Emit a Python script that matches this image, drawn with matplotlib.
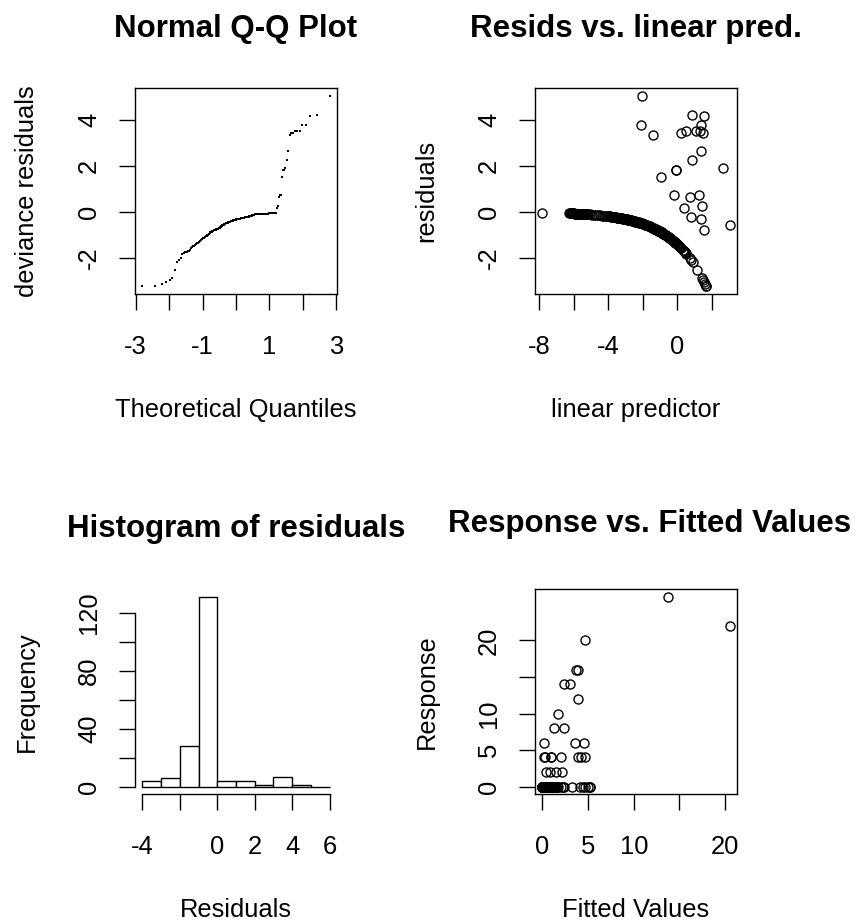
import matplotlib
matplotlib.use('Agg')

import numpy as np
import matplotlib.pyplot as plt
from statistics import NormalDist

plt.rcParams['font.family'] = ['Liberation Sans', 'DejaVu Sans']

# --- data (Poisson-type GLM diagnostics) ---

# observations with response 0: linear predictor and deviance residual
zero_linpred = [
    -7.80, -6.24, -6.20, -6.16, -6.13, -6.10, -6.07, -6.04, -6.01, -5.98,
    -5.94, -5.91, -5.88, -5.84, -5.81, -5.77, -5.74, -5.71, -5.67, -5.64,
    -5.60, -5.57, -5.54, -5.50, -5.47, -5.43, -5.40, -5.37, -5.33, -5.30,
    -5.25, -5.14, -5.03, -4.92, -4.81, -4.70, -4.59, -4.48, -4.37, -4.26,
    -4.15, -4.05,
    -3.98, -3.93, -3.89, -3.85, -3.80, -3.76, -3.71, -3.67, -3.63, -3.58,
    -3.54, -3.50, -3.45, -3.41, -3.36, -3.32,
    -3.29, -3.26, -3.23, -3.20, -3.16, -3.13, -3.10, -3.06, -3.03, -3.00,
    -2.96, -2.93, -2.90, -2.86, -2.83, -2.80, -2.76,
    -2.73, -2.70, -2.66, -2.63, -2.59, -2.56, -2.52, -2.49, -2.45, -2.42,
    -2.38, -2.35, -2.31, -2.28, -2.24, -2.21, -2.17, -2.14,
    -2.10, -2.05, -2.00, -1.95, -1.90, -1.85, -1.80, -1.75, -1.70, -1.65,
    -1.60, -1.55, -1.50, -1.45, -1.40,
    -1.36, -1.33, -1.30, -1.27, -1.24, -1.21, -1.18, -1.15, -1.12, -1.09,
    -1.06, -1.03, -1.00, -0.97,
    -0.91, -0.86, -0.80, -0.75, -0.70,
    -0.65, -0.62, -0.58, -0.54, -0.50, -0.47, -0.43, -0.40, -0.35, -0.30,
    -0.25, -0.20, -0.15, -0.11, -0.06, -0.02, 0.02, 0.08, 0.12, 0.16,
    0.22, 0.33, 0.37, 0.39, 0.43, 0.45, 0.48, 0.53,
    0.72, 0.79, 0.88, 1.16, 1.42, 1.49,
    1.54, 1.60, 1.65, 1.66,
]
zero_resid = [
    -0.029, -0.062, -0.064, -0.065, -0.066, -0.067, -0.068, -0.069, -0.070, -0.071,
    -0.073, -0.074, -0.075, -0.076, -0.077, -0.079, -0.080, -0.081, -0.083, -0.084,
    -0.086, -0.087, -0.089, -0.090, -0.092, -0.094, -0.095, -0.096, -0.098, -0.100,
    -0.102, -0.108, -0.114, -0.121, -0.128, -0.135, -0.143, -0.151, -0.159, -0.168,
    -0.178, -0.187,
    -0.193, -0.198, -0.202, -0.206, -0.212, -0.216, -0.221, -0.226, -0.230, -0.236,
    -0.241, -0.246, -0.252, -0.257, -0.264, -0.269,
    -0.273, -0.277, -0.281, -0.286, -0.291, -0.296, -0.300, -0.306, -0.311, -0.316,
    -0.322, -0.327, -0.332, -0.338, -0.344, -0.349, -0.356,
    -0.361, -0.367, -0.374, -0.380, -0.387, -0.393, -0.401, -0.407, -0.415, -0.422,
    -0.430, -0.437, -0.446, -0.452, -0.461, -0.468, -0.478, -0.485,
    -0.495, -0.507, -0.520, -0.533, -0.547, -0.561, -0.575, -0.590, -0.604, -0.620,
    -0.635, -0.652, -0.668, -0.685, -0.702,
    -0.716, -0.727, -0.738, -0.749, -0.761, -0.772, -0.784, -0.796, -0.808, -0.820,
    -0.832, -0.845, -0.858, -0.871,
    -0.897, -0.920, -0.948, -0.972, -0.997,
    -1.02, -1.04, -1.06, -1.08, -1.10, -1.12, -1.14, -1.16, -1.19, -1.22,
    -1.25, -1.28, -1.31, -1.34, -1.37, -1.40, -1.43, -1.47, -1.50, -1.53,
    -1.58, -1.67, -1.70, -1.72, -1.75, -1.77, -1.80, -1.84,
    -2.03, -2.10, -2.19, -2.53, -2.88, -2.98,
    -3.06, -3.14, -3.23, -3.25,
]

# observations with a non-zero response
nz_linpred = [-2.02, -2.08, -1.42, 0.87, 1.55, 0.19, 0.52, 1.10, 1.35, 1.51,
              1.31, 1.35, 0.87, 2.62, -0.06, -0.06, -0.97, -0.20, 0.72, 1.26,
              0.38, 1.45, 0.77, 1.35, 1.55, 3.02]
nz_resid = [5.07, 3.80, 3.36, 4.23, 4.16, 3.43, 3.51, 3.51, 3.80, 3.43,
            3.51, 2.65, 2.25, 1.93, 1.84, 1.84, 1.50, 0.73, 0.65, 0.73,
            0.15, 0.25, -0.22, -0.29, -0.77, -0.58]
nz_response = [6, 4, 4, 14, 20, 8, 10, 14, 16, 6,
               16, 12, 8, 26, 4, 4, 2, 2, 4, 6,
               2, 4, 2, 4, 4, 22]

# histogram of residuals as drawn
hist_edges = [-4, -3, -2, -1, 0, 1, 2, 3, 4, 5, 6]
hist_counts = [4, 6, 28, 131, 4, 4, 1, 7, 1, 0]

linpred = np.array(zero_linpred + nz_linpred)
resid = np.array(zero_resid + nz_resid)
response = np.array([0] * len(zero_linpred) + nz_response)
fitted = np.exp(linpred)

# --- figure layout (pixel-matched to an 863x923 R device) ---
W, H = 863, 923
fig = plt.figure(figsize=(W / 100, H / 100), dpi=100)

def box(x0, x1, y0, y1):
    return [x0 / W, 1 - y1 / H, (x1 - x0) / W, (y1 - y0) / H]

ax_qq = fig.add_axes(box(135, 337, 88, 294))
ax_rl = fig.add_axes(box(535, 737, 88, 294))
ax_hi = fig.add_axes(box(135, 337, 589, 794.3))
ax_rf = fig.add_axes(box(535, 737, 589, 794.3))

tick_fs = 18.4
label_fs = 18.4
title_fs = 22.5

def style(ax, xticks, xlabels, yticks, ylabels):
    ax.set_xticks(xticks)
    ax.set_xticklabels(xlabels)
    ax.set_yticks(yticks)
    ax.set_yticklabels(ylabels)
    ax.tick_params(direction='out', length=11.5, width=1.0, colors='black',
                   labelsize=tick_fs)
    ax.tick_params(axis='x', pad=18)
    ax.tick_params(axis='y', pad=13)
    for lab in ax.get_yticklabels():
        lab.set_rotation(90)
        lab.set_va('center')
    for sp in ax.spines.values():
        sp.set_linewidth(1.0)

def labels(ax, title, xlab, ylab, title_y, title_x=0.5):
    ax.text(title_x, title_y, title, transform=ax.transAxes, ha='center',
            va='baseline', fontsize=title_fs, fontweight='bold')
    ax.text(0.5, -0.597, xlab, transform=ax.transAxes, ha='center',
            va='baseline', fontsize=label_fs)
    ax.text(-0.537, 0.5, ylab, transform=ax.transAxes, ha='center',
            va='center', rotation=90, fontsize=label_fs)

# 1) Normal Q-Q plot
n = len(resid)
theo = [NormalDist().inv_cdf((i - 0.5) / n) for i in range(1, n + 1)]
ax_qq.plot(theo, np.sort(resid), linestyle='none', marker='s',
           markersize=1.6, markeredgewidth=0, color='black')
ax_qq.margins(0.04)
style(ax_qq, [-3, -2, -1, 0, 1, 2, 3], ['-3', '', '-1', '', '1', '', '3'],
      [-2, 0, 2, 4], ['-2', '0', '2', '4'])
labels(ax_qq, 'Normal Q-Q Plot', 'Theoretical Quantiles',
       'deviance residuals', 1.249)

# 2) residuals vs linear predictor
ax_rl.plot(linpred, resid, linestyle='none', marker='o', markersize=6.5,
           markerfacecolor='none', markeredgecolor='black', markeredgewidth=1.0)
ax_rl.margins(0.04)
style(ax_rl, [-8, -6, -4, -2, 0, 2], ['-8', '', '-4', '', '0', ''],
      [-2, 0, 2, 4], ['-2', '0', '2', '4'])
labels(ax_rl, 'Resids vs. linear pred.', 'linear predictor', 'residuals', 1.249)

# 3) histogram of residuals
ax_hi.bar(hist_edges[:-1], hist_counts, width=np.diff(hist_edges), align='edge',
          facecolor='white', edgecolor='black', linewidth=1.0)
lo, hi = hist_edges[0], hist_edges[-1]
ax_hi.set_xlim(lo - 0.04 * (hi - lo), hi + 0.04 * (hi - lo))
top = max(hist_counts)
ax_hi.set_ylim(-0.04 * top, 1.04 * top)
style(ax_hi, [-4, -2, 0, 2, 4, 6], ['-4', '', '0', '2', '4', '6'],
      [0, 20, 40, 60, 80, 100, 120], ['0', '', '40', '', '80', '', '120'])
ax_hi.spines['top'].set_visible(False)
ax_hi.spines['right'].set_visible(False)
ax_hi.spines['bottom'].set_bounds(-4, 6)
ax_hi.spines['left'].set_bounds(0, 120)
labels(ax_hi, 'Histogram of residuals', 'Residuals', 'Frequency', 1.2547)

# 4) response vs fitted values
ax_rf.plot(fitted, response, linestyle='none', marker='o', markersize=6.5,
           markerfacecolor='none', markeredgecolor='black', markeredgewidth=1.0)
ax_rf.margins(0.04)
style(ax_rf, [0, 5, 10, 15, 20], ['0', '5', '10', '', '20'],
      [0, 5, 10, 15, 20], ['0', '5', '10', '', '20'])
labels(ax_rf, 'Response vs. Fitted Values', 'Fitted Values', 'Response',
       1.279, title_x=0.569)

fig.savefig('out.png', dpi=100)
